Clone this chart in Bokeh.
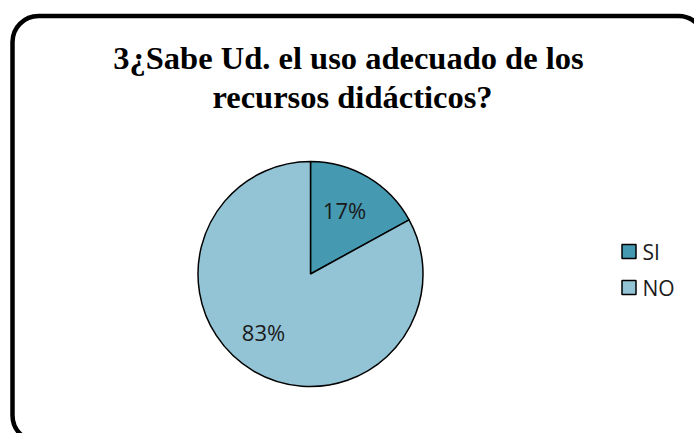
import math
from bokeh.plotting import figure
from bokeh.models import Range1d, BoxAnnotation, ColumnDataSource
from bokeh.core.properties import value
from bokeh.embed import file_html
from bokeh.resources import INLINE

# ---- data ----
categories = ["SI", "NO"]
values = [17, 83]
title_lines = ["3¿Sabe  Ud. el uso adecuado de los", "recursos didácticos?"]

# ---- style / layout ----
slice_colors = ["#4599B1", "#93C4D6"]
W, H = 694, 433


def Y(v):
    return H - v


p = figure(width=W, height=H, x_range=Range1d(0, W), y_range=Range1d(0, H),
           output_backend="svg", toolbar_location=None, x_axis_type=None, y_axis_type=None,
           min_border=0, outline_line_color=None)
p.background_fill_color = "white"
p.border_fill_color = "white"

# rounded chart border
box = BoxAnnotation(left=12, right=704, top=Y(15.5), bottom=Y(441),
                    fill_alpha=0, line_color="black", line_alpha=1.0, line_width=4.5,
                    border_radius=26)
p.add_layout(box)

# pie
total = sum(values)
cum = 0
starts, ends = [], []
for v in values:
    starts.append(math.pi / 2 - 2 * math.pi * cum / total)
    cum += v
    ends.append(math.pi / 2 - 2 * math.pi * cum / total)
pcts = [f"{v / total * 100:.0f}%" for v in values]
src = ColumnDataSource(dict(cat=categories, val=values, start=starts, end=ends,
                            color=slice_colors, pct=pcts))
CX, CY, R = 310, Y(273.5), 112.5
p.wedge(x=CX, y=CY, radius=R, start_angle="start", end_angle="end", direction="clock",
        fill_color="color", line_color="black", line_width=1.5, source=src)

# data labels
label_x = [344, 263]
label_y = [Y(209), Y(331)]
p.text(x=label_x, y=label_y, text=pcts, text_font=value("Open Sans"), text_font_size="22px",
       text_align="center", text_baseline="middle", text_color="#1a1a1a")

# legend
leg_y = [Y(251), Y(287)]
p.rect(x=[628.5, 628.5], y=leg_y, width=14, height=14, fill_color=slice_colors,
       line_color="black", line_width=1.5)
p.text(x=[642, 642], y=leg_y, text=categories, text_font=value("Open Sans"),
       text_font_size="21px", text_align="left", text_baseline="middle", text_color="#1a1a1a")

# title
p.text(x=[352, 352], y=[Y(57), Y(96)], text=title_lines, text_font=value("Liberation Serif"),
       text_font_style="bold", text_font_size="32.5px", text_align="center",
       text_baseline="alphabetic", text_color="black")

open("out.html", "w").write(file_html(p, INLINE))
